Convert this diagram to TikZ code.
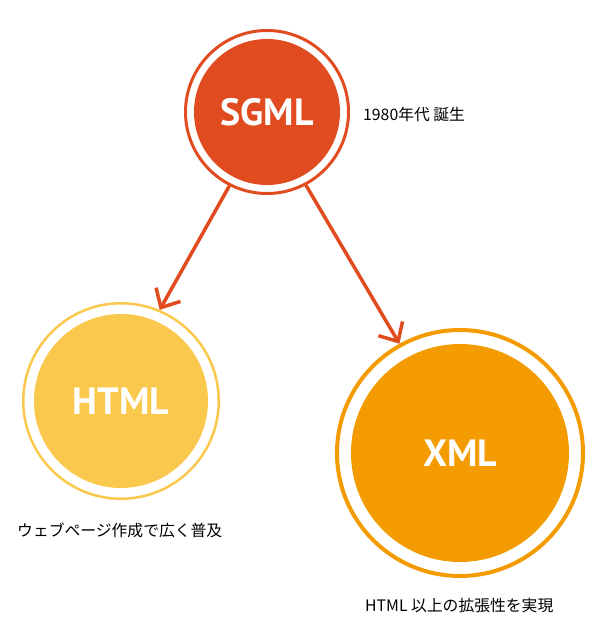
\documentclass[tikz,border=0pt]{standalone}
\usepackage{fontspec}
\setsansfont{PT Sans}
\newfontfamily\jpfont{Noto Sans CJK JP}
\usetikzlibrary{arrows.meta}
\definecolor{sgmlc}{HTML}{E04C20}
\definecolor{htmlc}{HTML}{FAC84C}
\definecolor{xmlc}{HTML}{F39B00}
\definecolor{arrowc}{HTML}{E04C20}
\tikzset{
  ring/.style n args={4}{circle, draw=#1, line width=#2, minimum size=#3, inner sep=0pt,
    text=white, font=\sffamily\bfseries\fontsize{38}{38}\selectfont,
    path picture={\fill[#1] (path picture bounding box.center) circle (#4);}},
  label/.style={anchor=west, inner sep=0pt, font=\jpfont\fontsize{15.8}{16}\selectfont, text=black},
  link/.style={draw=arrowc, line width=3.5pt, -{Straight Barb[length=15pt, width=28pt, line width=3.5pt]}}
}
\begin{document}
\begin{tikzpicture}[x=1pt, y=-1pt]
\useasboundingbox (0,0) rectangle (600,640);
\node[ring={sgmlc}{3pt}{163pt}{73pt}] (sgml) at (267,112) {SGML};
\node[ring={htmlc}{2.5pt}{195.5pt}{87pt}] (html) at (121,401) {HTML};
\node[ring={xmlc}{4pt}{246pt}{109pt}] (xml) at (460,453) {XML};
\node[label] (l1) at (363,114) {1980年代 誕生};
\node[label] (l2) at (17,530) {ウェブページ作成で広く普及};
\node[label] (l3) at (365,605.5) {HTML 以上の拡張性を実現};
\draw[link] (sgml.243.7) -- (html.67.5);
\draw[link] (sgml.298.7) -- (xml.119.6);
\end{tikzpicture}
\end{document}
